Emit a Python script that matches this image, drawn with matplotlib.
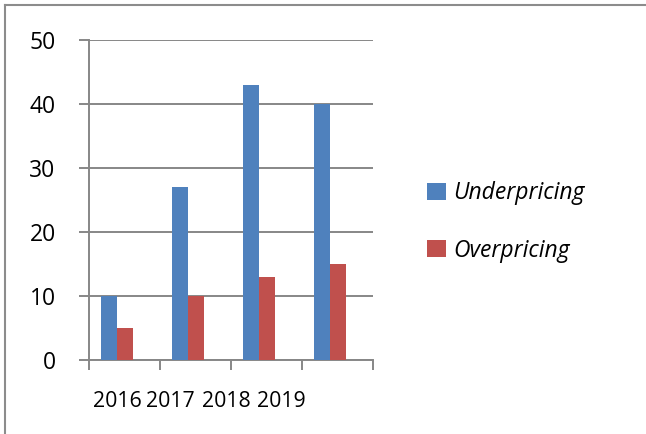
import matplotlib.pyplot as plt
from matplotlib.lines import Line2D

# datos
years = ['2016', '2017', '2018', '2019']
underpricing = [10, 27, 43, 40]
overpricing = [5, 10, 13, 15]
series_names = ['Underpricing', 'Overpricing']
yticks = [0, 10, 20, 30, 40, 50]

blue = '#4F81BD'
red = '#C0504D'
grid_col = '#878787'

plt.rcParams['font.family'] = ['Open Sans', 'DejaVu Sans']

fig = plt.figure(figsize=(6.46, 4.34), dpi=100)
ax = fig.add_axes([89 / 646, 1 - 360 / 434, 284 / 646, 320 / 434])

x = list(range(len(years)))
w = 0.225
ax.bar([i - 0.331 for i in x], underpricing, width=w, align='edge',
       color=blue, label=series_names[0], zorder=3)
ax.bar([i - 0.106 for i in x], overpricing, width=w, align='edge',
       color=red, label=series_names[1], zorder=3)

ax.set_xlim(-0.5, len(years) - 0.5)
ax.set_ylim(0, 50)

# ejes estilo Excel
ax.set_yticks(yticks)
ax.yaxis.grid(True, color=grid_col, lw=1.4, zorder=0)
ax.tick_params(axis='y', length=7, width=1.4, color=grid_col, pad=17,
               labelsize=16.5, labelcolor='black')
ax.set_xticks([i - 0.5 for i in range(len(years) + 1)])
ax.set_xticklabels([])
ax.tick_params(axis='x', which='major', length=7, width=1.4, color=grid_col)
# etiquetas de años (desplazadas como en el original)
ax.set_xticks([-0.1, 0.65, 1.43, 2.21], minor=True)
ax.set_xticklabels(years, minor=True)
ax.tick_params(axis='x', which='minor', length=0, pad=22, labelsize=15.3)

for s in ['top', 'right']:
    ax.spines[s].set_visible(False)
for s in ['left', 'bottom']:
    ax.spines[s].set_color(grid_col)
    ax.spines[s].set_linewidth(1.4)

leg = ax.legend(loc='center left', bbox_to_anchor=(418 / 646, 1 - 222 / 434),
                bbox_transform=fig.transFigure, frameon=False,
                prop={'size': 16.5, 'style': 'italic'},
                handlelength=0.8, handleheight=0.8, handletextpad=0.35,
                labelspacing=1.45, borderaxespad=0)

# marco del documento
fig.add_artist(Line2D([5 / 646, 1], [1 - 5 / 434, 1 - 5 / 434],
                      transform=fig.transFigure, color='#8c8c8c', lw=1.5))
fig.add_artist(Line2D([5 / 646, 5 / 646], [0, 1 - 5 / 434],
                      transform=fig.transFigure, color='#8c8c8c', lw=1.5))

fig.savefig('out.png', dpi=100)
